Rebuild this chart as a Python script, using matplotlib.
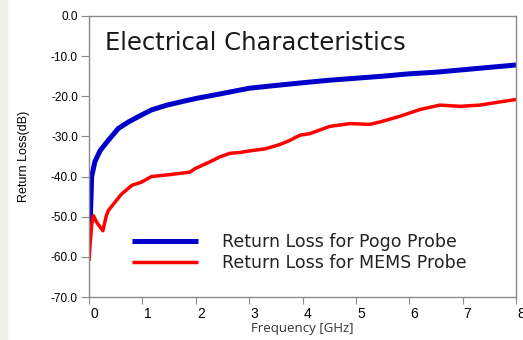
import matplotlib
import matplotlib.pyplot as plt
import matplotlib.transforms as mtransforms
from matplotlib.patches import Rectangle

matplotlib.use('Agg')

# frequency in GHz, return loss in dB
pogo_freq = [0.0, 0.02, 0.05, 0.11, 0.21, 0.36, 0.55, 0.74, 0.92, 1.17, 1.46, 1.75,
             2.02, 2.5, 3.0, 3.5, 3.95, 4.5, 5.0, 5.5, 6.0, 6.5, 7.0, 7.5, 8.0]
pogo_rl = [-53.5, -52.6, -40.0, -36.3, -33.5, -31.0, -28.0, -26.4, -25.1, -23.4, -22.2, -21.3,
           -20.5, -19.3, -18.0, -17.3, -16.7, -16.0, -15.5, -15.0, -14.4, -14.0, -13.4, -12.8, -12.2]

mems_freq = [0.0, 0.02, 0.05, 0.08, 0.11, 0.15, 0.21, 0.26, 0.32, 0.36, 0.48, 0.6, 0.8, 0.98,
             1.17, 1.52, 1.89, 1.99, 2.27, 2.45, 2.64, 2.83, 3.01, 3.3, 3.58, 3.76, 3.95, 4.14,
             4.51, 4.89, 5.26, 5.45, 5.82, 6.2, 6.57, 6.95, 7.32, 7.7, 8.0]
mems_rl = [-61.0, -57.0, -52.0, -49.7, -50.5, -51.5, -52.6, -53.5, -50.0, -48.5, -46.5, -44.5,
           -42.2, -41.4, -40.0, -39.5, -38.9, -38.0, -36.3, -35.1, -34.2, -34.0, -33.6, -33.1,
           -32.0, -31.0, -29.7, -29.3, -27.5, -26.8, -27.0, -26.4, -25.0, -23.3, -22.2, -22.5,
           -22.2, -21.4, -20.8]

labels = ['Return Loss for Pogo Probe', 'Return Loss for MEMS Probe']
x_ticks = [0, 1, 2, 3, 4, 5, 6, 7, 8]
y_ticks = [0, -10, -20, -30, -40, -50, -60, -70]

fig = plt.figure(figsize=(5.23, 3.40), dpi=100)
fig.patches.append(Rectangle((0, 0), 7 / 523, 1, transform=fig.transFigure,
                             color='#f0eeea', zorder=0))
ax = fig.add_axes([89 / 523, 1 - 297 / 340, 427 / 523, 281 / 340])

ax.plot(pogo_freq, pogo_rl, color='#0000c8', lw=3.6, label=labels[0], solid_capstyle='butt')
ax.plot(mems_freq, mems_rl, color='#ff0000', lw=2.5, label=labels[1], solid_capstyle='butt')

ax.set_xlim(0, 8)
ax.set_ylim(-70, 0)
ax.set_xticks(x_ticks)
ax.set_yticks(y_ticks)

for s in ax.spines.values():
    s.set_color('#8a8a8a')
    s.set_linewidth(1.0)
ax.tick_params(axis='y', length=6, color='#8a8a8a', pad=2)
ax.tick_params(axis='x', length=5, color='#8a8a8a', pad=2)

ax.set_yticklabels([f'{v:.1f}' for v in y_ticks], family='Liberation Sans', fontsize=8.5)
ax.set_xticklabels([str(v) for v in x_ticks], family='Liberation Sans', fontsize=10)

# x tick labels sit a little right of their ticks in the original
shift = mtransforms.ScaledTranslation(5 / 100, 0, fig.dpi_scale_trans)
for lbl in ax.get_xticklabels():
    lbl.set_transform(lbl.get_transform() + shift)

ax.set_xlabel('Frequency [GHz]', family='Open Sans', fontsize=9.5, color='#333333', labelpad=1)
ax.set_ylabel('Return Loss(dB)', family='Liberation Sans', fontsize=9, labelpad=15)

ax.text(0.037, 0.903, 'Electrical Characteristics', transform=ax.transAxes,
        fontsize=17.5, family='DejaVu Sans', va='center', ha='left', color='#1a1a1a')

leg = ax.legend(loc='lower left', bbox_to_anchor=(0.1007, 0.0886), frameon=False,
                prop={'family': 'DejaVu Sans', 'size': 12.5},
                handlelength=3.8, handletextpad=1.38, labelspacing=0.2, borderpad=0,
                borderaxespad=0)
for t in leg.get_texts():
    t.set_color('#222222')

fig.savefig('out.png', dpi=100)
